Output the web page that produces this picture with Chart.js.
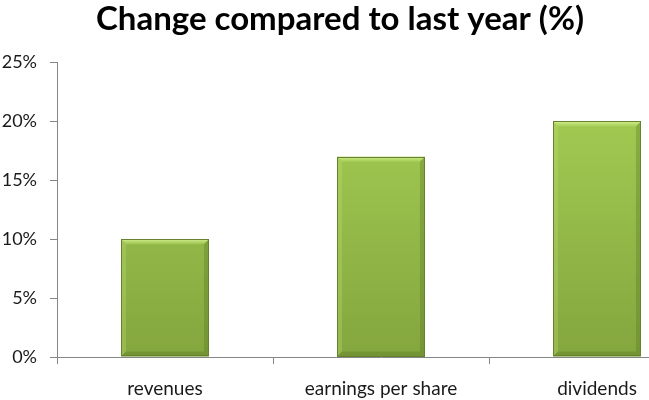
<!DOCTYPE html>
<html>
<head>
<meta charset="utf-8">
<script src="https://cdn.jsdelivr.net/npm/chart.js@4.4.0/dist/chart.umd.min.js"></script>
<style>
html,body{margin:0;padding:0;background:#fff;overflow:hidden;}
#wrap{width:720px;height:400px;}
</style>
</head>
<body>
<div id="wrap"><canvas id="c" width="720" height="400"></canvas></div>
<script>
const titleText = 'Change compared to last year (%)';
const categories = ['revenues', 'earnings per share', 'dividends'];
const changePct = [10, 17, 20];
const yTicks = [0, 5, 10, 15, 20, 25];

const FONT = 'Lato, "Open Sans", sans-serif';

function barFill(ctx) {
  const chart = ctx.chart;
  const area = chart.chartArea;
  if (!area) return '#9bc44c';
  const el = ctx.element;
  const top = el && el.y !== undefined ? el.y : area.top;
  const base = el && el.base !== undefined ? el.base : area.bottom;
  if (!isFinite(top) || !isFinite(base)) return '#9bc44c';
  const g = chart.ctx.createLinearGradient(0, top, 0, base);
  g.addColorStop(0, '#a8d256');
  g.addColorStop(1, '#84a63e');
  return g;
}

const bevelPlugin = {
  id: 'bevel',
  afterDatasetsDraw(chart) {
    const ctx = chart.ctx;
    const meta = chart.getDatasetMeta(0);
    meta.data.forEach(bar => {
      const l = bar.x - bar.width / 2, r = bar.x + bar.width / 2;
      const t = bar.y, b = bar.base;
      const d = 5;
      ctx.save();
      let g = ctx.createLinearGradient(0, t, 0, t + d);
      g.addColorStop(0, 'rgba(215,240,150,0.95)');
      g.addColorStop(1, 'rgba(180,220,100,0.4)');
      ctx.fillStyle = g;
      ctx.beginPath();
      ctx.moveTo(l, t); ctx.lineTo(r, t); ctx.lineTo(r - d, t + d); ctx.lineTo(l + d, t + d); ctx.closePath();
      ctx.fill();
      ctx.fillStyle = 'rgba(190,225,120,0.3)';
      ctx.beginPath();
      ctx.moveTo(l, t); ctx.lineTo(l + d, t + d); ctx.lineTo(l + d, b - d); ctx.lineTo(l, b); ctx.closePath();
      ctx.fill();
      ctx.fillStyle = 'rgba(80,110,30,0.3)';
      ctx.beginPath();
      ctx.moveTo(r, t); ctx.lineTo(r - d, t + d); ctx.lineTo(r - d, b - d); ctx.lineTo(r, b); ctx.closePath();
      ctx.fill();
      ctx.fillStyle = 'rgba(85,115,35,0.35)';
      ctx.beginPath();
      ctx.moveTo(l, b); ctx.lineTo(r, b); ctx.lineTo(r - d, b - d); ctx.lineTo(l + d, b - d); ctx.closePath();
      ctx.fill();
      ctx.strokeStyle = '#66822f';
      ctx.lineWidth = 1;
      ctx.strokeRect(Math.round(l) + 0.5, Math.round(t) + 0.5, Math.round(r - l) - 1, Math.round(b - t) - 1);
      ctx.restore();
    });
  }
};

const titleShift = {
  id: 'titleShift',
  afterLayout(chart) {
    if (chart.titleBlock) {
      chart.titleBlock.left = 0;
      chart.titleBlock.right = 680;
    }
  }
};

new Chart(document.getElementById('c'), {
  type: 'bar',
  data: {
    labels: categories,
    datasets: [{
      data: changePct,
      backgroundColor: barFill,
      borderWidth: 0,
      barPercentage: 0.407,
      categoryPercentage: 1
    }]
  },
  options: {
    responsive: false,
    animation: false,
    devicePixelRatio: 1,
    layout: { padding: { left: 0, top: 0, bottom: 0, right: 15 } },
    plugins: {
      legend: { display: false },
      tooltip: { enabled: false },
      title: {
        display: true,
        text: titleText,
        color: '#000',
        font: { family: FONT, size: 33, weight: 'bold' },
        padding: { top: 0, bottom: 23 }
      }
    },
    scales: {
      x: {
        grid: { offset: true, drawOnChartArea: false, drawTicks: true, tickLength: 7, color: '#868686' },
        border: { color: '#868686' },
        ticks: { color: '#1a1a1a', font: { family: FONT, size: 19 }, padding: 13, maxRotation: 0 },
        afterFit(s) { s.height = 43; }
      },
      y: {
        min: 0, max: 25,
        afterBuildTicks(s) { s.ticks = yTicks.map(v => ({ value: v })); },
        grid: { drawOnChartArea: false, drawTicks: true, tickLength: 7, color: '#868686' },
        border: { color: '#868686' },
        ticks: { color: '#1a1a1a', font: { family: FONT, size: 18 }, padding: 13, callback: v => v + '%' },
        afterFit(s) { s.width = 57; }
      }
    }
  },
  plugins: [bevelPlugin, titleShift]
});
</script>
</body>
</html>
